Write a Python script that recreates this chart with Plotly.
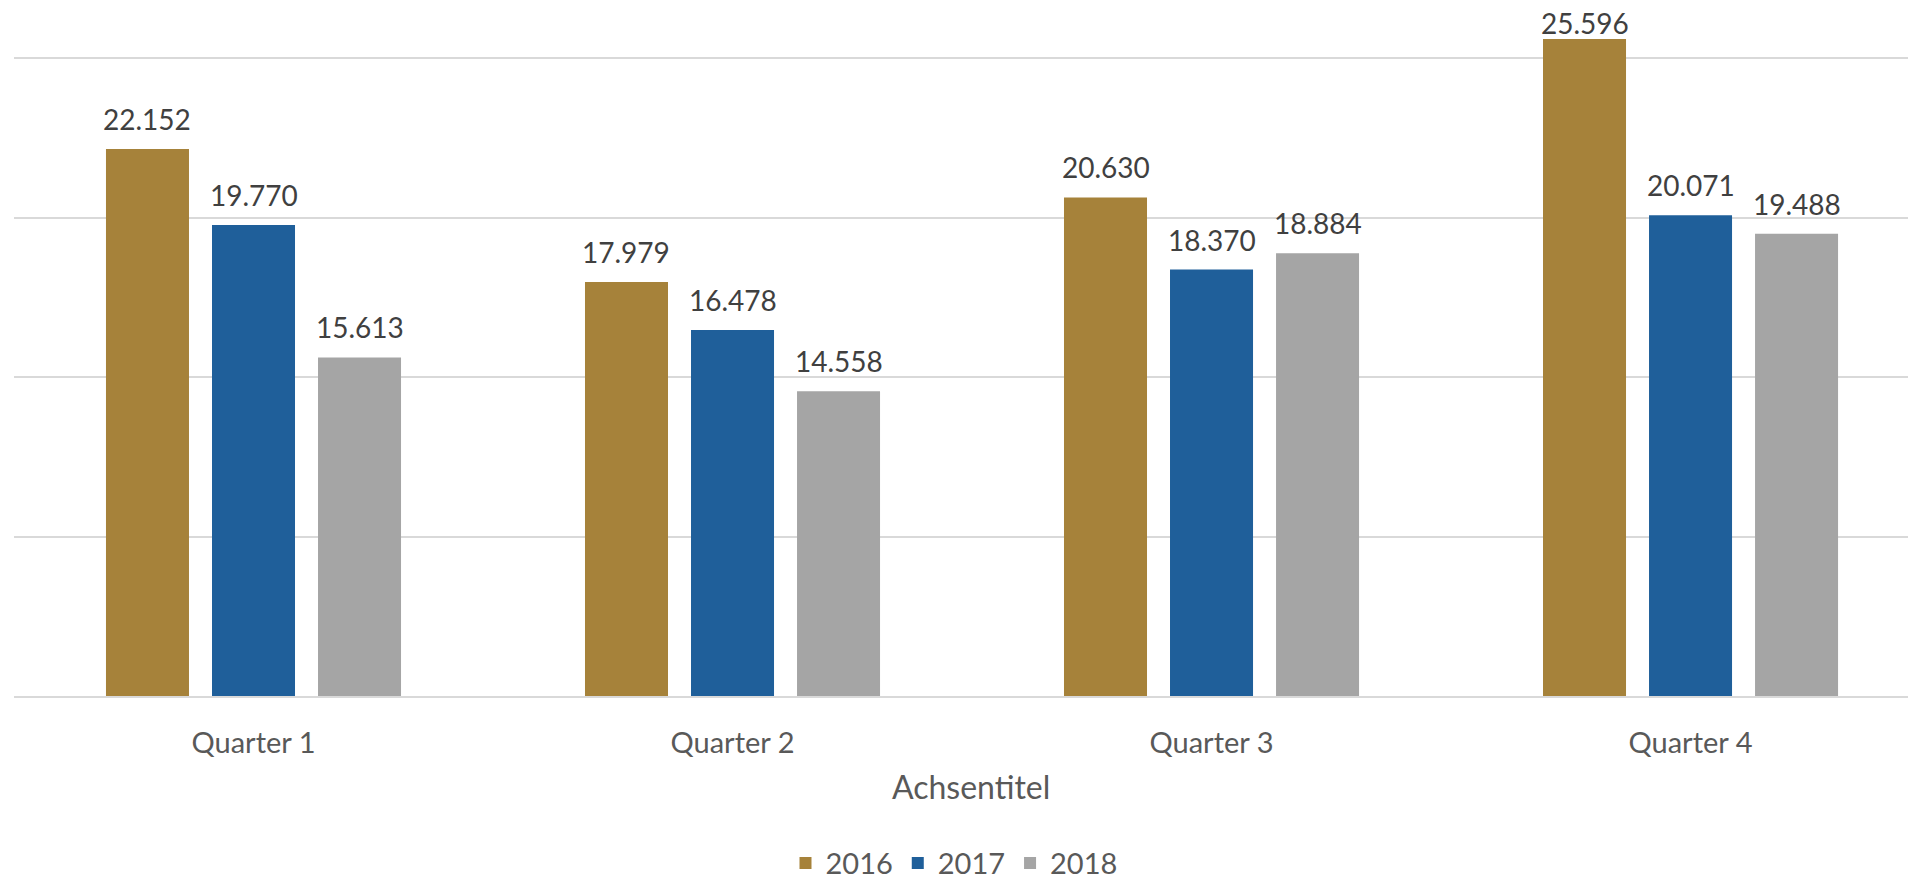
import plotly.graph_objects as go

quarters = ["Quarter 1", "Quarter 2", "Quarter 3", "Quarter 4"]
years = ["2016", "2017", "2018"]
values_2016 = [22152, 17979, 20630, 25596]
values_2017 = [19770, 16478, 18370, 20071]
values_2018 = [15613, 14558, 18884, 19488]
series = [values_2016, values_2017, values_2018]
colors = ["#A6823A", "#1F5F9A", "#A5A5A5"]
axis_title = "Achsentitel"

BARGAP = 0.336
BARGROUPGAP = 0.217
FONT = "Lato"
H = 880
MB = 184
YMIN, YMAX = 5000, 26820
LABEL_SHIFT = 30
LABEL_MIN_CENTER = 23  # keep labels inside the chart area (px from top)

def fmt(v):
    return f"{v:,}".replace(",", ".")

px_per_unit = (H - MB) / (YMAX - YMIN)

xs = list(range(len(quarters)))
fig = go.Figure()
for name, vals, col in zip(years, series, colors):
    fig.add_trace(go.Bar(x=xs, y=vals, name=name, marker=dict(color=col, line=dict(width=0)),
                         hoverinfo="skip"))

slot = (1 - BARGAP) / len(series)
annotations = []
for k, vals in enumerate(series):
    off = (k - (len(series) - 1) / 2) * slot
    for i, v in enumerate(vals):
        top_px = (YMAX - v) * px_per_unit
        shift = min(LABEL_SHIFT, top_px - LABEL_MIN_CENTER)
        annotations.append(dict(x=i + off, y=v, xref="x", yref="y", text=fmt(v),
                                showarrow=False, yanchor="middle", yshift=shift,
                                font=dict(family=FONT, size=28, color="#404040")))
annotations.append(dict(x=0.5053, y=0, xref="paper", yref="paper", text=axis_title,
                        showarrow=False, yanchor="middle", yshift=-90,
                        font=dict(family=FONT, size=32, color="#595959")))

fig.update_layout(
    width=1908, height=H,
    margin=dict(l=14, r=0, t=0, b=MB, autoexpand=False),
    paper_bgcolor="white", plot_bgcolor="white",
    barmode="group", bargap=BARGAP, bargroupgap=BARGROUPGAP,
    showlegend=True,
    legend=dict(orientation="h", x=0.4963, xanchor="center", y=-0.240, yanchor="middle",
                font=dict(family=FONT, size=29, color="#595959"), itemclick=False),
    annotations=annotations,
    font=dict(family=FONT),
)
fig.update_xaxes(range=[-0.5, 3.454], tickvals=xs, ticktext=quarters, showgrid=False,
                 zeroline=False, showline=True, linecolor="#D9D9D9", linewidth=2,
                 ticks="", ticklabelstandoff=20, automargin=False,
                 tickfont=dict(family=FONT, size=29, color="#595959"))
fig.update_yaxes(range=[YMIN, YMAX], tickvals=[10000, 15000, 20000, 25000],
                 showticklabels=False, showgrid=True, gridcolor="#D9D9D9", gridwidth=2,
                 zeroline=False, showline=False, ticks="", automargin=False)

fig.write_html("out.html", config={"displayModeBar": False, "staticPlot": True},
               post_script="document.body.style.margin='0px';document.body.style.overflow='hidden';")
